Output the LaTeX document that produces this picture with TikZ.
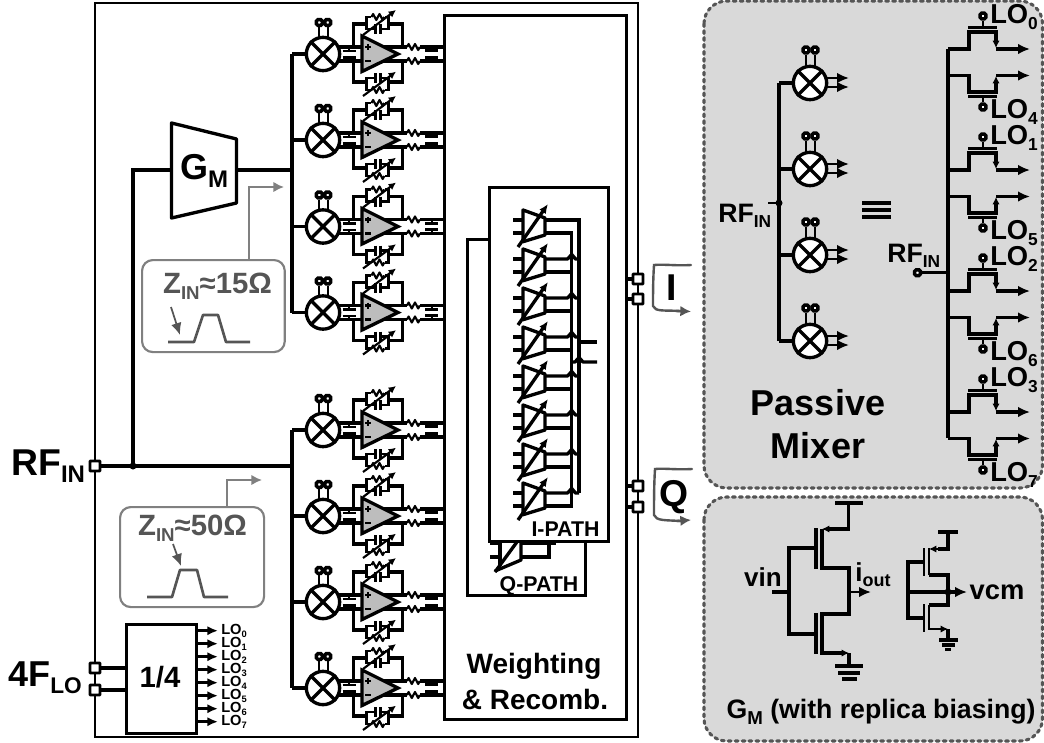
\documentclass[tikz,border=0pt]{standalone}
\usepackage{fontspec}
\setmainfont{Liberation Sans}
\usetikzlibrary{arrows.meta}
\definecolor{panelgray}{HTML}{D9D9D9}
\definecolor{ampgray}{HTML}{BDBDBD}
\definecolor{annot}{HTML}{555555}
\definecolor{annotline}{HTML}{808080}
\definecolor{dashgray}{HTML}{555555}
\newcommand{\sbt}[4]{\fontsize{#1}{#1}\selectfont #3\raisebox{-.2em}{\fontsize{#2}{#2}\selectfont #4}}
\newcommand{\txt}[2]{\fontsize{#1}{#1}\selectfont #2}
\tikzset{
  every node/.style={inner sep=0pt,font=\bfseries},
  wire/.style={line width=2.5pt,line join=miter},
  fine/.style={line width=1.6pt},
  med/.style={line width=2pt},
  tip/.style={-{Latex[length=9pt,width=8pt]}},
  tipwamp/.style={-{Latex[length=7pt,width=6pt]}},
  tipsmall/.style={-{Latex[length=5.5pt,width=5.5pt]}},
  iopad/.style={draw,line width=2.2pt,fill=white,minimum size=7.5pt,rounded corners=.5pt},
  pinpad/.style={draw,line width=2.6pt,fill=white,minimum size=4.4pt,rounded corners=1.2pt},
  mixer/.style={circle,draw,line width=2.5pt,fill=white,minimum size=25pt},
  panel/.style={fill=panelgray,draw=dashgray,line width=2.3pt,dash pattern=on 2.2pt off 3pt,line cap=round,rounded corners=17pt},
  callout/.style={draw=annotline,line width=1.6pt,fill=white,rounded corners=8pt},
  calltext/.style={text=annot},
  callwire/.style={draw=annotline,line width=1.6pt,-{Latex[length=8pt,width=8pt]}},
  trace/.style={draw=annot,line width=2pt},
  bracket/.style={draw=annot,line width=1.8pt,line cap=round},
}
% zigzag resistor, 13 units wide
\newcommand{\res}[2]{\draw[fine,line join=round] (#1,#2) -- ++(1.6,-3) -- ++(3.2,6) -- ++(3.2,-6) -- ++(3.2,6) -- ++(1.6,-3);}
% one RF channel: id, y
\newcommand{\chan}[2]{
\begin{scope}[shift={(0,#2)}]
  \node[mixer] (mx#1) at (323,0) {};
  \draw[wire] (mx#1.45) -- (mx#1.225) (mx#1.135) -- (mx#1.315);
  \draw[wire] (292,0) -- (mx#1.west);
  \node[pinpad] (pa#1) at (319.3,-31.5) {};
  \node[pinpad] (pb#1) at (327.7,-31.5) {};
  \draw[fine] (pa#1) -- (319.3,-15.5) (pb#1) -- (327.7,-15.5);
  % mixer to amplifier
  \draw[wire] (339,-7) -- (362,-7) (339,7) -- (362,7);
  \draw[fine] (349,-7) -- (349,-3) (349,7) -- (349,3);
  \draw[med] (342.5,-3) -- (355.5,-3) (342.5,3.5) -- (355.5,3.5);
  % feedback
  \draw[wire] (353.3,-7) -- (353.3,-30) -- (366.7,-30) (353.3,7) -- (353.3,28) -- (366.7,28);
  \draw[wire] (402.3,-7) -- (402.3,-30) -- (388.3,-30) (402.3,7) -- (402.3,28) -- (388.3,28);
  \draw[med] (370.5,-37) -- (366.7,-37) -- (366.7,-25) -- (375.5,-25) (384.8,-37) -- (388.3,-37) -- (388.3,-25) -- (380.5,-25);
  \draw[med] (375.5,-30) -- (375.5,-20) (380.5,-30) -- (380.5,-20);
  \res{371.5}{-37}
  \draw[med] (370.5,36) -- (366.7,36) -- (366.7,24) -- (375.5,24) (384.8,36) -- (388.3,36) -- (388.3,24) -- (380.5,24);
  \draw[med] (375.5,19) -- (375.5,29) (380.5,19) -- (380.5,29);
  \res{371.5}{36}
  \draw[fine,tipsmall] (363,-19) -- (396,-44);
  \draw[fine,tipsmall] (363,42) -- (396,17.7);
  % outputs
  \draw[wire] (380,-7) -- (407,-7) (420,-7) -- (443,-7) (380,7) -- (407,7) (420,7) -- (443,7);
  \res{407}{-7}\res{407}{7}
  \draw[fine] (431.7,-7) -- (431.7,-3.5) (431.7,7) -- (431.7,3.5);
  \draw[med] (425,-3.2) -- (438,-3.2) (425,3.2) -- (438,3.2);
  % amplifier
  \draw[wire,fill=ampgray,line join=miter] (362,-18) -- (398,0) -- (362,17.5) -- cycle;
  \draw[fine] (365,-7) -- (371,-7) (368,-10) -- (368,-4) (365,7) -- (371,7);
\end{scope}}
% weighted amplifier in the recombination block
\newcommand{\wamp}[1]{
\begin{scope}[shift={(0,#1)}]
  \draw[wire,line join=round] (513,0) -- (523,0) (513,13) -- (523,13);
  \draw[wire,line join=round] (523,-10) -- (545,-2) -- (545,15) -- (523,21.7) -- cycle;
  \draw[wire,tipwamp] (518,27) -- (548,-16);
\end{scope}}
% switch pair on the right: y offset, labels
\newcommand{\swpair}[3]{
\begin{scope}[shift={(0,#1)}]
  \draw[wire] (948,49) -- (969,49) -- (969,32) -- (996,32) -- (996,38);
  \draw[wire,tipsmall] (996,36) -- (996,48);
  \draw[wire,tip] (996,49) -- (1030,49);
  \draw[wire] (968,27.5) -- (997,27.5);
  \node[pinpad] (tg#1) at (983,16) {};
  \draw[med] (tg#1) -- (983,27.5);
  \node[anchor=west] at (990,17) {\sbt{20.5}{13}{LO}{#2}};
  \draw[wire] (948,75.5) -- (969,75.5) -- (969,92) -- (996,92) -- (996,86);
  \draw[wire,tipsmall] (996,88) -- (996,76);
  \draw[wire,tip] (996,75.5) -- (1030,75.5);
  \draw[wire] (968,96.5) -- (997,96.5);
  \node[pinpad] (bg#1) at (983,107) {};
  \draw[med] (bg#1) -- (983,96.5);
  \node[anchor=west] at (990,112) {\sbt{20.5}{13}{LO}{#3}};
\end{scope}}
% mixer of the right-hand panel
\newcommand{\pmix}[2]{
  \node[mixer] (pm#1) at (810,#2) {};
  \draw[wire] (pm#1.45) -- (pm#1.225) (pm#1.135) -- (pm#1.315);
  \draw[wire] (779,#2) -- (pm#1.west);
  \node[pinpad] (pma#1) at (806,#2-33) {};
  \node[pinpad] (pmb#1) at (815,#2-33) {};
  \draw[fine] (pma#1) -- (806,#2-15.5) (pmb#1) -- (815,#2-15.5);
  \draw[med,tip] (827,#2-5) -- (849,#2-5);
  \draw[med,tip] (827,#2+4) -- (849,#2+4);
}
\begin{document}
\begin{tikzpicture}[x=0.75pt,y=-0.75pt]
\useasboundingbox (0,0) rectangle (1044,742);
\fill[white] (0,0) rectangle (1044,742);

% right panels
\draw[panel] (704,1) rectangle (1042.5,488);
\draw[panel] (704,497) rectangle (1042.5,741);

% outer box
\draw[fine] (95,3) rectangle (638,737);

% weighting block
\node[draw,wire,fill=white,minimum width=136.5pt,minimum height=528pt,anchor=north west] (wblk) at (443,14) {};

% RF input wiring
\node[iopad] (rfpad) at (95,466) {};
\coordinate (rfdot) at (133,466);
\coordinate (busl) at (292,466);
\draw[wire] (rfpad) -- (busl);
\fill (rfdot) circle[radius=3.5];
\draw[wire] (rfdot) -- (133,170) -- (171.5,170);
\node (gmc) at (204,171) {\sbt{27}{18}{G}{M}};
\draw[wire,line join=round] (171.5,123) -- (236.5,139) -- (236.5,203) -- (171.5,218) -- cycle;
\draw[wire] (236.5,170) -- (292,170);
\draw[wire] (292,54) -- (292,312.5);
\draw[wire] (292,430) -- (292,688);
\node[anchor=west] at (11,466) {\sbt{28}{18}{RF}{IN}};

% channels
\chan{1}{54}\chan{2}{140}\chan{3}{226.5}\chan{4}{312.5}
\chan{5}{430}\chan{6}{516}\chan{7}{602}\chan{8}{688}

% Q path block
\node[draw,wire,fill=white,minimum width=88.5pt,minimum height=267pt,anchor=north west] (qblk) at (466,238) {};
\draw[wire] (490,543) -- (500,543) (490,557) -- (500,557);
\draw[wire,line join=round] (500,530) -- (521,530) -- (521,560) -- (495,571);
\draw[wire] (500,530) -- (500,566);
\draw[wire] (495,572) -- (522,535);
\draw[wire] (521,543) -- (556,543) (521,557) -- (549,557) -- (549,535);
\node at (539,586) {\txt{16}{Q-PATH}};

% I path block
\node[draw,wire,fill=white,minimum width=89.25pt,minimum height=265.5pt,anchor=north west] (iblk) at (488,186) {};
\foreach \k in {0,...,7} {\pgfmathsetmacro{\yy}{220+39*\k}\wamp{\yy}}
\draw[wire] (545,220) -- (579,220) -- (579,493);
\draw[wire] (545,233) -- (571.7,233) -- (571.7,506) -- (545,506);
\foreach \k in {1,...,7} {
  \pgfmathsetmacro{\yy}{220+39*\k}
  \draw[wire,line join=round] (545,\yy) -- (567.5,\yy) -- (571.7,\yy-4.5) -- (575.5,\yy) -- (579,\yy);
}
\foreach \k in {1,...,6} {
  \pgfmathsetmacro{\yy}{233+39*\k}
  \draw[wire] (545,\yy) -- (571.7,\yy);
}
\draw[wire] (579,342) -- (597,342);
\draw[wire,line join=round] (571.7,362) -- (575,362) -- (579,357.5) -- (583,362) -- (597,362);
\node at (565.5,529) {\txt{16}{I-PATH}};
\node at (534,666) {\txt{21}{Weighting}};
\node at (535,699) {\txt{21}{\& Recomb.}};

% output pads
\node[iopad] (ipa) at (638,279) {};
\node[iopad] (ipb) at (638,299) {};
\node[iopad] (qpa) at (638,486) {};
\node[iopad] (qpb) at (638,507) {};
\draw[wire] (625,279) -- (ipa) (625,299) -- (ipb) (625,486) -- (qpa) (625,507) -- (qpb);
\draw[bracket] (691,265) .. controls (675,266) and (665,264) .. (654,265) .. controls (653,280) and (653,295) .. (653,306) .. controls (655,312) and (665,310) .. (680,311);
\draw[annot,line width=1.8pt,-{Latex[length=8pt,width=8pt]}] (676,311) -- (691,311.5);
\draw[bracket] (692,469) .. controls (675,470) and (665,468) .. (655,469) .. controls (654,485) and (654,500) .. (654,515) .. controls (656,521) and (666,520) .. (680,521);
\draw[annot,line width=1.8pt,-{Latex[length=8pt,width=8pt]}] (677,521) -- (691,520);
\node at (672,288) {\txt{28}{I}};
\node at (674,497) {\txt{28}{Q}};

% callouts
\node[callout,minimum width=107pt,minimum height=69pt,anchor=north west] (zhi) at (141,259) {};
\node[calltext] at (217.5,286) {\sbt{22}{14}{Z}{IN}≈15Ω};
\draw[callwire] (zhi.north -| 249,0) -- (249,187) -- (284,187);
\draw[trace,line join=round] (168,342) -- (194,342) -- (203,315) -- (218,315) -- (226,342) -- (250,342);
\draw[draw=annot,line width=1.3pt,-{Latex[length=9pt,width=8pt]}] (171,307) -- (180,335);

\node[callout,minimum width=108pt,minimum height=75pt,anchor=north west] (zlo) at (119,506) {};
\node[calltext] at (192.5,528) {\sbt{22}{14}{Z}{IN}≈50Ω};
\draw[callwire] (zlo.north -| 227,0) -- (227,480) -- (262,480);
\draw[trace,line join=round] (147,597) -- (172,597) -- (180,570) -- (197,570) -- (204,597) -- (228,597);
\draw[draw=annot,line width=1.3pt,-{Latex[length=9pt,width=8pt]}] (173,544) -- (181,566);

% LO divider
\node[draw,wire,fill=white,minimum width=52.5pt,minimum height=81.75pt,anchor=north west] (div) at (125,623) {};
\node at (160,677) {\txt{22}{1/4}};
\node[iopad] (lopa) at (95,668) {};
\node[iopad] (lopb) at (95,690) {};
\draw[wire] (lopa) -- (125,668) (lopb) -- (125,690);
\node[anchor=west] at (8,678) {\sbt{27}{17}{4F}{LO}};
\foreach \k in {0,...,7} {
  \pgfmathsetmacro{\yy}{630.7+13*\k}
  \draw[med,-{Latex[length=8pt,width=7pt]}] (195,\yy) -- (218,\yy);
  \node[anchor=west] at (221,\yy) {\sbt{11}{7}{LO}{\k}};
}

% passive mixer panel
\draw[wire] (779,83) -- (779,341);
\pmix{1}{83}\pmix{2}{169}\pmix{3}{255}\pmix{4}{341}
\coordinate (pdot) at (779,203);
\fill (pdot) circle[radius=3.5];
\draw[med] (768,203) -- (pdot);
\node[anchor=west] at (718,216) {\sbt{20}{13}{RF}{IN}};
\draw[wire] (862,203) -- (891,203) (862,210) -- (891,210) (862,217) -- (891,217);
\draw[wire,line width=3pt] (948,49) -- (948,438);
\swpair{0}{0}{4}\swpair{121}{1}{5}\swpair{242}{2}{6}\swpair{363}{3}{7}
\node[pinpad] (prf) at (917.5,272.7) {};
\draw[wire] (prf) -- (948,272.7);
\node[anchor=west] at (887,256) {\sbt{20}{13}{RF}{IN}};
\node at (818,403) {\txt{27}{Passive}};
\node at (818,446) {\txt{27}{Mixer}};

% Gm panel
\draw[wire] (835,503) -- (863,503) (848.5,503) -- (848.5,529) -- (835,529);
\draw[wire,tipsmall] (836,529) -- (822,529);
\draw[wire] (822,529) -- (822,568) -- (849,568) -- (849,614) -- (822,614) -- (822,653) -- (838,653);
\draw[wire,tipsmall] (836,653) -- (849,653);
\draw[wire] (849,653) -- (849,666);
\draw[wire] (816,528) -- (816,569) (816,613) -- (816,654);
\draw[wire] (816,548) -- (789,548) -- (789,634) -- (816,634) (772,592) -- (789,592);
\draw[wire] (835,666) -- (863,666) (838,673) -- (860,673) (842,679) -- (857,679);
\draw[med,tip] (849,592) -- (871,592);
\node at (763,577) {\txt{19.5}{vin}};
\node[anchor=west] at (855,575) {\sbt{19.5}{13.5}{i}{out}};

\draw[wire] (938,532) -- (958,532) (948,532) -- (948,549) -- (938,549);
\draw[med,tipsmall] (940,549) -- (929,549);
\draw[med] (929,548) -- (929,575);
\draw[wire] (929,575) -- (948,575) -- (948,605) -- (929,605);
\draw[med] (929,605) -- (929,630);
\draw[med] (929,629) -- (938,629);
\draw[med,tipsmall] (936,629) -- (948,629);
\draw[wire] (948,629) -- (948,640);
\draw[med] (924,548) -- (924,576) (924,604) -- (924,632);
\draw[wire] (924,562) -- (908,562) -- (908,618) -- (924,618) (908,592) -- (948,592);
\draw[wire,tip] (948,592) -- (967,592);
\fill (948,592) circle[radius=3.5];
\draw[wire] (939,640) -- (958,640) (942,645) -- (955,645) (945,649.5) -- (951,649.5);
\node at (997,592) {\txt{20.5}{vcm}};
\node at (881,712) {\sbt{20}{14}{G}{M} (with replica biasing)};
\end{tikzpicture}
\end{document}
